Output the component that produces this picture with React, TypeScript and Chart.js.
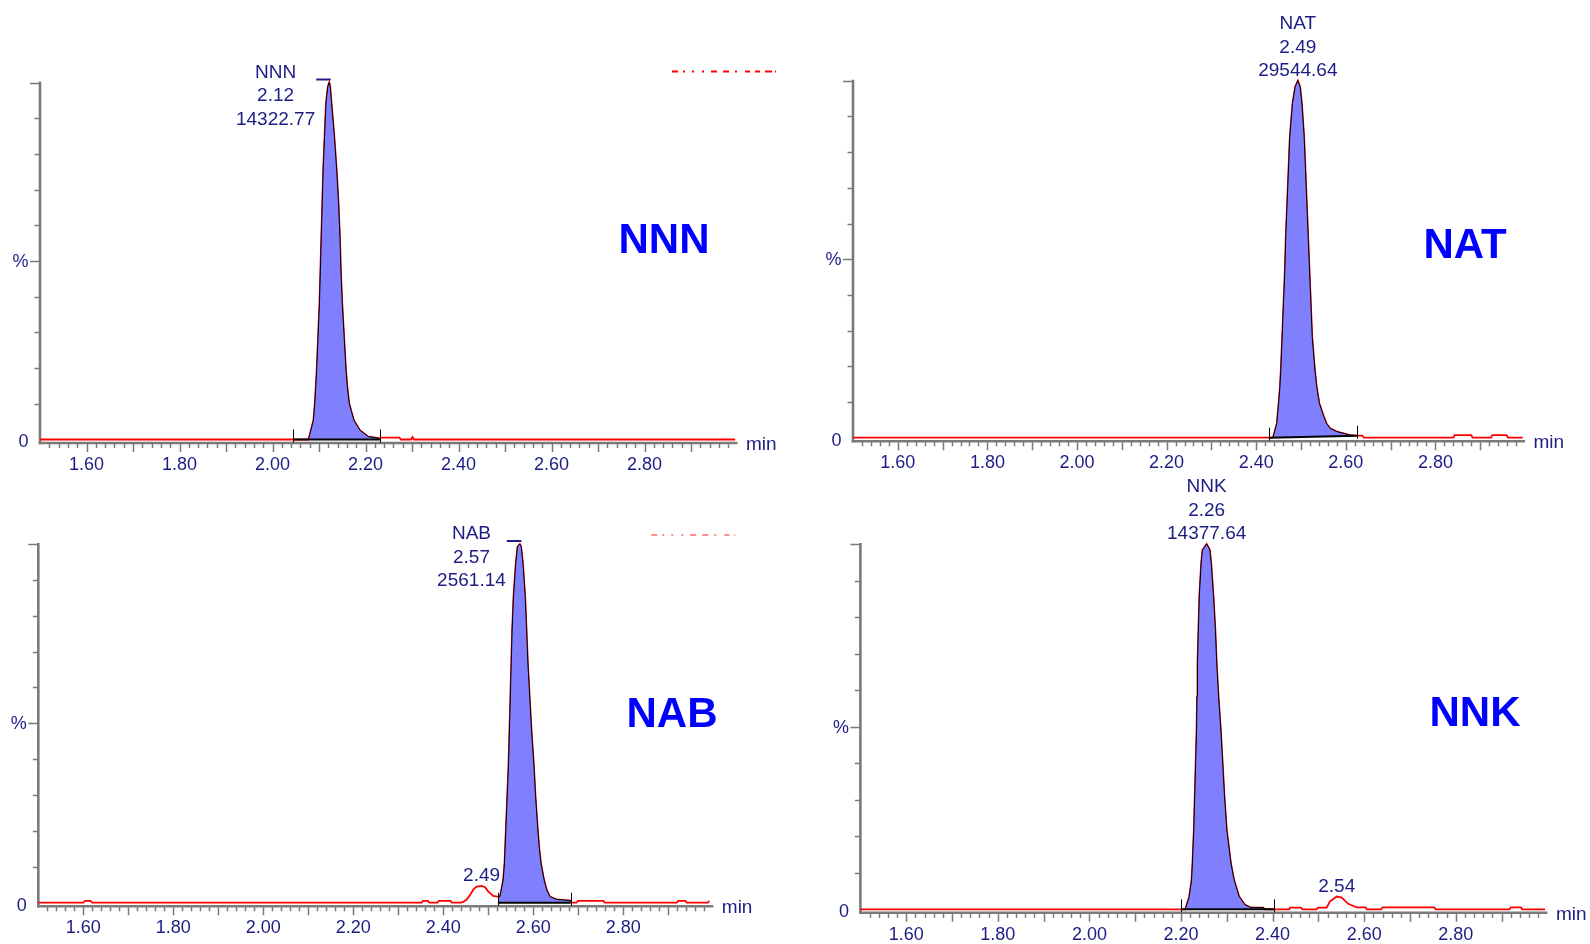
import React, { useEffect, useRef } from 'react';
import { Chart, registerables } from 'chart.js';

Chart.register(...registerables);

// ---------------- data ----------------
const X_MIN = 1.5;
const X_MAX = 3.0;
const xTickValues = [1.6, 1.8, 2.0, 2.2, 2.4, 2.6, 2.8];
const xTickLabels = ['1.60', '1.80', '2.00', '2.20', '2.40', '2.60', '2.80'];
const yPercentLabel = '%';
const yZeroLabel = '0';
const xUnitLabel = 'min';

// NNN chromatogram (time min, relative intensity %)
const nnnTime = [1.5, 2.077, 2.079, 2.088, 2.091, 2.095, 2.098, 2.101, 2.103, 2.105, 2.107, 2.109, 2.112, 2.115, 2.119, 2.122, 2.124, 2.127, 2.133, 2.138, 2.142, 2.145, 2.147, 2.15, 2.154, 2.158, 2.161, 2.165, 2.175, 2.188, 2.206, 2.231, 2.234, 2.273, 2.276, 2.298, 2.301, 2.304, 2.995];
const nnnSignal = [0, 0, 0.8, 5.4, 10.1, 19.4, 28.8, 38.1, 47.5, 56.8, 66.2, 75.5, 84.9, 94.2, 98.9, 100, 98.9, 94.2, 84.9, 75.5, 66.2, 56.8, 47.5, 38.1, 28.8, 19.4, 14.7, 10.1, 5.4, 2.6, 0.8, 0.3, 0.55, 0.55, 0, 0, 0.7, 0, 0];
const nnnPeakText = ['NNN', '2.12', '14322.77'];
const nnnIntegration = [2.045, 2.231];
const nnnIntegrationBase = [0, 0];

// NAT chromatogram
const natTime = [1.5, 2.436, 2.438, 2.446, 2.45, 2.453, 2.455, 2.458, 2.461, 2.464, 2.466, 2.469, 2.472, 2.475, 2.481, 2.487, 2.493, 2.498, 2.502, 2.507, 2.51, 2.513, 2.516, 2.519, 2.522, 2.525, 2.531, 2.535, 2.541, 2.551, 2.557, 2.565, 2.58, 2.595, 2.609, 2.624, 2.637, 2.64, 2.84, 2.843, 2.88, 2.883, 2.924, 2.927, 2.959, 2.962, 2.995];
const natSignal = [0, 0, 0.3, 4.0, 9.6, 14.3, 19.0, 28.3, 37.6, 47.0, 56.3, 65.6, 75.0, 84.3, 93.6, 98.3, 100, 98.3, 93.6, 84.3, 75.0, 65.6, 56.3, 47.0, 37.6, 28.3, 19.0, 14.3, 9.6, 5.9, 4.0, 2.6, 1.7, 1.2, 0.75, 0.56, 0.56, 0, 0, 0.7, 0.7, 0, 0, 0.7, 0.7, 0, 0];
const natPeakText = ['NAT', '2.49', '29544.64'];
const natIntegration = [2.429, 2.624];
const natIntegrationBase = [0, 0.56];

// NAB chromatogram
const nabTime = [1.5, 1.6, 1.604, 1.616, 1.62, 2.352, 2.355, 2.366, 2.369, 2.387, 2.39, 2.416, 2.419, 2.44, 2.445, 2.452, 2.459, 2.467, 2.474, 2.485, 2.493, 2.5, 2.511, 2.52, 2.526, 2.533, 2.536, 2.539, 2.542, 2.545, 2.547, 2.549, 2.551, 2.553, 2.556, 2.561, 2.565, 2.57, 2.573, 2.577, 2.582, 2.585, 2.588, 2.592, 2.596, 2.601, 2.605, 2.61, 2.613, 2.617, 2.624, 2.63, 2.637, 2.652, 2.682, 2.685, 2.696, 2.699, 2.756, 2.759, 2.919, 2.922, 2.938, 2.941, 2.988, 2.991];
const nabSignal = [0, 0, 0.5, 0.5, 0, 0, 0.5, 0.5, 0, 0, 0.5, 0.5, 0, 0, 0.3, 0.9, 2.1, 3.7, 4.5, 4.7, 4.3, 3.1, 1.9, 1.7, 1.7, 6.3, 11.0, 20.3, 29.6, 38.8, 48.1, 57.4, 66.7, 76.0, 85.3, 94.6, 99.3, 100, 99.3, 94.6, 85.3, 76.0, 66.7, 57.4, 48.1, 38.8, 29.6, 20.3, 15.6, 11.0, 6.3, 3.5, 1.7, 0.9, 0.6, 0, 0, 0.5, 0.5, 0, 0, 0.5, 0.5, 0, 0, 0.5];
const nabPeakText = ['NAB', '2.57', '2561.14'];
const nabIntegration = [2.522, 2.683];
const nabIntegrationBase = [0, 0];
const nabMinorPeak = { text: '2.49', time: 2.485 };

// NNK chromatogram
const nnkTime = [1.5, 2.209, 2.211, 2.218, 2.223, 2.225, 2.228, 2.23, 2.232, 2.234, 2.235, 2.236, 2.238, 2.24, 2.244, 2.247, 2.256, 2.263, 2.266, 2.271, 2.275, 2.278, 2.282, 2.287, 2.291, 2.295, 2.3, 2.309, 2.316, 2.327, 2.34, 2.351, 2.38, 2.383, 2.436, 2.438, 2.462, 2.465, 2.496, 2.499, 2.518, 2.525, 2.54, 2.551, 2.565, 2.584, 2.603, 2.606, 2.637, 2.64, 2.753, 2.756, 2.917, 2.92, 2.942, 2.945, 2.995];
const nnkSignal = [0, 0, 0.7, 3.5, 8.0, 12.6, 21.7, 30.8, 40.0, 49.1, 58.2, 67.3, 76.5, 85.6, 94.7, 98.4, 100, 98.4, 94.7, 85.6, 76.5, 67.3, 58.2, 49.1, 40.0, 30.8, 21.7, 12.6, 8.0, 3.5, 1.2, 0.55, 0.45, 0, 0, 0.45, 0.45, 0, 0, 0.45, 0.45, 2.1, 3.5, 3.2, 1.5, 0.5, 0.5, 0, 0, 0.5, 0.5, 0, 0, 0.5, 0.5, 0, 0];
const nnkPeakText = ['NNK', '2.26', '14377.64'];
const nnkIntegration = [2.2, 2.403];
const nnkIntegrationBase = [0, 0];
const nnkMinorPeak = { text: '2.54', time: 2.54 };

// ---------------- styles ----------------
const FONT = "'Liberation Sans', Arial, Helvetica, sans-serif";
const AXIS_GREY = '#7a7a7a';
const TRACE_RED = '#ff0000';
const PEAK_FILL = '#8080ff';
const TEXT_NAVY = '#1c1c84';
const BIG_BLUE = '#0000ff';

type Box = { left: number; top: number; w: number; h: number };
type Pad = { left: number; right: number; top: number; bottom: number };
type PanelSpec = {
  key: string;
  title: string;
  time: number[];
  signal: number[];
  peakText: string[];
  labelMode: 'left' | 'above';
  integration: number[];
  integrationBase: number[];
  minor: { text: string; time: number } | null;
  box: Box;
  pad: Pad;
  titlePos: { dx: number; dy: number };
  artifact: { from: number; to: number; dy: number; alpha: number } | null;
};

const panels: PanelSpec[] = [
  {
    key: 'nnn', title: 'NNN', time: nnnTime, signal: nnnSignal, peakText: nnnPeakText, labelMode: 'left',
    integration: nnnIntegration, integrationBase: nnnIntegrationBase, minor: null,
    box: { left: 0, top: 0, w: 800, h: 472 },
    pad: { left: 40, right: 62.5, top: 82.5, bottom: 32.5 },
    titlePos: { dx: 624, dy: 155.5 },
    artifact: { from: -65.5, to: 38.5, dy: -11, alpha: 1 },
  },
  {
    key: 'nat', title: 'NAT', time: natTime, signal: natSignal, peakText: natPeakText, labelMode: 'above',
    integration: natIntegration, integrationBase: natIntegrationBase, minor: null,
    box: { left: 800, top: 0, w: 790, h: 472 },
    pad: { left: 53, right: 65, top: 80.7, bottom: 34.3 },
    titlePos: { dx: 612, dy: 161.8 },
    artifact: null,
  },
  {
    key: 'nab', title: 'NAB', time: nabTime, signal: nabSignal, peakText: nabPeakText, labelMode: 'left',
    integration: nabIntegration, integrationBase: nabIntegrationBase, minor: nabMinorPeak,
    box: { left: 0, top: 472, w: 800, h: 472 },
    pad: { left: 38.3, right: 86.7, top: 72, bottom: 41.3 },
    titlePos: { dx: 633.7, dy: 167.7 },
    artifact: { from: -62, to: 22, dy: -9, alpha: 0.45 },
  },
  {
    key: 'nnk', title: 'NNK', time: nnkTime, signal: nnkSignal, peakText: nnkPeakText, labelMode: 'above',
    integration: nnkIntegration, integrationBase: nnkIntegrationBase, minor: nnkMinorPeak,
    box: { left: 800, top: 472, w: 790, h: 472 },
    pad: { left: 60.4, right: 42.6, top: 72, bottom: 34.7 },
    titlePos: { dx: 614.6, dy: 167 },
    artifact: null,
  },
];

function interp(ts: number[], vs: number[], t: number): number {
  for (let i = 1; i < ts.length; i++) {
    if (ts[i] >= t) {
      const f = (t - ts[i - 1]) / (ts[i] - ts[i - 1]);
      return vs[i - 1] + f * (vs[i] - vs[i - 1]);
    }
  }
  return vs[vs.length - 1];
}

function textCentered(ctx: CanvasRenderingContext2D, s: string, cx: number, cy: number, size: number, align: CanvasTextAlign = 'center') {
  ctx.textAlign = align;
  ctx.textBaseline = 'alphabetic';
  ctx.fillText(s, cx, cy + 0.358 * size);
}

function makeDecorPlugin(p: PanelSpec) {
  let apexIdx = 0;
  p.signal.forEach((v, i) => { if (v > p.signal[apexIdx]) apexIdx = i; });
  const apexTime = p.time[apexIdx];
  return {
    id: 'chromDecor_' + p.key,
    beforeDatasetsDraw(chart: any) {
      const { ctx, scales } = chart;
      const x = scales.x, y = scales.y;
      const x0 = x.getPixelForValue(X_MIN);
      const x1 = x.getPixelForValue(X_MAX);
      const y0 = y.getPixelForValue(0);
      const yTop = y.getPixelForValue(100);
      const axisY = y0 + 3.5;
      ctx.save();
      ctx.strokeStyle = AXIS_GREY;
      ctx.lineWidth = 2.6;
      ctx.beginPath();
      ctx.moveTo(x0, yTop - 1);
      ctx.lineTo(x0, axisY + 1.3);
      ctx.stroke();
      ctx.beginPath();
      ctx.moveTo(x0 - 1.3, axisY);
      ctx.lineTo(x1, axisY);
      ctx.stroke();
      ctx.lineWidth = 1.5;
      ctx.beginPath();
      for (let k = 1; k < 75; k++) {
        const t = X_MIN + k * 0.02;
        const major = k % 5 === 0;
        const px = Math.round(x.getPixelForValue(t)) + 0.5;
        ctx.moveTo(px, axisY + 1);
        ctx.lineTo(px, axisY + (major ? 9 : 5));
      }
      for (let v = 10; v <= 100; v += 10) {
        const major = v === 50 || v === 100;
        const py = Math.round(y.getPixelForValue(v)) + 0.5;
        ctx.moveTo(x0 - (major ? 10 : 5.5), py);
        ctx.lineTo(x0, py);
      }
      ctx.stroke();
      ctx.restore();
    },
    afterDatasetsDraw(chart: any) {
      const { ctx, scales, chartArea } = chart;
      const x = scales.x, y = scales.y;
      const x0 = x.getPixelForValue(X_MIN);
      const x1 = x.getPixelForValue(X_MAX);
      const y0 = y.getPixelForValue(0);
      const yTop = y.getPixelForValue(100);
      const axisY = y0 + 3.5;
      ctx.save();
      // integration markers
      ctx.strokeStyle = '#000';
      ctx.lineWidth = 1;
      ctx.beginPath();
      p.integration.forEach((t, i) => {
        const px = Math.round(x.getPixelForValue(t)) + 0.5;
        const py = y.getPixelForValue(p.integrationBase[i]);
        ctx.moveTo(px, py - 10);
        ctx.lineTo(px, py + 3);
      });
      ctx.stroke();

      ctx.fillStyle = TEXT_NAVY;
      // tick labels
      ctx.font = `18px ${FONT}`;
      xTickValues.forEach((v, i) => {
        textCentered(ctx, xTickLabels[i], x.getPixelForValue(v), axisY + 20.5, 18);
      });
      textCentered(ctx, yPercentLabel, x0 - 11.5, y.getPixelForValue(50) - 0.5, 18, 'right');
      textCentered(ctx, yZeroLabel, x0 - 11.5, y0 + 1.5, 18, 'right');
      ctx.font = `19px ${FONT}`;
      textCentered(ctx, xUnitLabel, x1 + 8.5, axisY, 19, 'left');

      // peak labels
      ctx.font = `19px ${FONT}`;
      const apexX = x.getPixelForValue(apexTime);
      if (p.labelMode === 'above') {
        const rows = [-59, -35, -11.5];
        p.peakText.forEach((s, i) => textCentered(ctx, s, apexX, yTop + rows[i], 19));
      } else {
        const maxW = Math.max(...p.peakText.map((s) => ctx.measureText(s).width));
        const cx = apexX - 14 - maxW / 2;
        const rows = [-11.5, 12, 35.5];
        p.peakText.forEach((s, i) => textCentered(ctx, s, cx, yTop + rows[i], 19));
        ctx.strokeStyle = TEXT_NAVY;
        ctx.lineWidth = 2;
        ctx.beginPath();
        ctx.moveTo(apexX - 13, yTop - 3);
        ctx.lineTo(apexX + 1.5, yTop - 3);
        ctx.stroke();
      }
      if (p.minor) {
        const mv = interp(p.time, p.signal, p.minor.time);
        textCentered(ctx, p.minor.text, x.getPixelForValue(p.minor.time), y.getPixelForValue(mv) - 11.5, 19);
      }

      // compound title
      ctx.fillStyle = BIG_BLUE;
      ctx.font = `bold 42px ${FONT}`;
      textCentered(ctx, p.title, chartArea.left + p.titlePos.dx, chartArea.top + p.titlePos.dy, 42);

      // clipped red header fragment
      if (p.artifact) {
        ctx.globalAlpha = p.artifact.alpha;
        ctx.strokeStyle = TRACE_RED;
        ctx.lineWidth = 2;
        ctx.setLineDash([6, 5, 2, 7, 2, 8, 2, 7, 6, 6, 6, 6, 2, 8, 5, 5, 5, 5, 7, 3]);
        ctx.beginPath();
        ctx.moveTo(x1 + p.artifact.from, yTop + p.artifact.dy);
        ctx.lineTo(x1 + p.artifact.to, yTop + p.artifact.dy);
        ctx.stroke();
        ctx.setLineDash([]);
        ctx.globalAlpha = 1;
      }
      ctx.restore();
    },
  };
}

function ChromPanel({ spec }: { spec: PanelSpec }) {
  const ref = useRef<HTMLCanvasElement>(null);
  useEffect(() => {
    const canvas = ref.current;
    if (!canvas) return;
    const trace = spec.time.map((t, i) => ({ x: t, y: spec.signal[i] }));
    const [s, e] = spec.integration;
    const peakPts = [
      { x: s, y: interp(spec.time, spec.signal, s) },
      ...trace.filter((pt) => pt.x > s && pt.x < e),
      { x: e, y: interp(spec.time, spec.signal, e) },
    ];
    const basePts = [
      { x: s, y: spec.integrationBase[0] },
      { x: e, y: spec.integrationBase[1] },
    ];
    const chart = new Chart(canvas, {
      type: 'line',
      data: {
        datasets: [
          {
            label: spec.title + ' trace',
            data: trace,
            borderColor: TRACE_RED,
            borderWidth: 1.8,
            pointRadius: 0,
            tension: 0,
            fill: false,
            clip: false,
            order: 3,
          },
          {
            label: spec.title + ' peak',
            data: peakPts,
            borderColor: '#000000',
            borderWidth: 1,
            backgroundColor: PEAK_FILL,
            pointRadius: 0,
            tension: 0,
            fill: 2,
            clip: false,
            order: 2,
          },
          {
            label: spec.title + ' integration baseline',
            data: basePts,
            borderColor: '#000000',
            borderWidth: 2,
            pointRadius: 0,
            tension: 0,
            fill: false,
            clip: false,
            order: 1,
          },
        ],
      } as any,
      options: {
        responsive: false,
        maintainAspectRatio: false,
        animation: false,
        devicePixelRatio: 1,
        events: [],
        layout: { padding: spec.pad },
        plugins: {
          legend: { display: false },
          tooltip: { enabled: false },
          title: { display: false },
        },
        scales: {
          x: { type: 'linear', min: X_MIN, max: X_MAX, display: false },
          y: { type: 'linear', min: 0, max: 100, display: false },
        },
      } as any,
      plugins: [makeDecorPlugin(spec) as any],
    });
    return () => chart.destroy();
  }, [spec]);
  return (
    <canvas
      ref={ref}
      width={spec.box.w}
      height={spec.box.h}
      style={{
        position: 'absolute',
        left: spec.box.left,
        top: spec.box.top,
        width: spec.box.w,
        height: spec.box.h,
        display: 'block',
      }}
    />
  );
}

export default function App() {
  return (
    <div
      style={{
        position: 'fixed',
        left: 0,
        top: 0,
        width: 1590,
        height: 944,
        background: '#ffffff',
        overflow: 'hidden',
      }}
    >
      {panels.map((p) => (
        <ChromPanel key={p.key} spec={p} />
      ))}
    </div>
  );
}
